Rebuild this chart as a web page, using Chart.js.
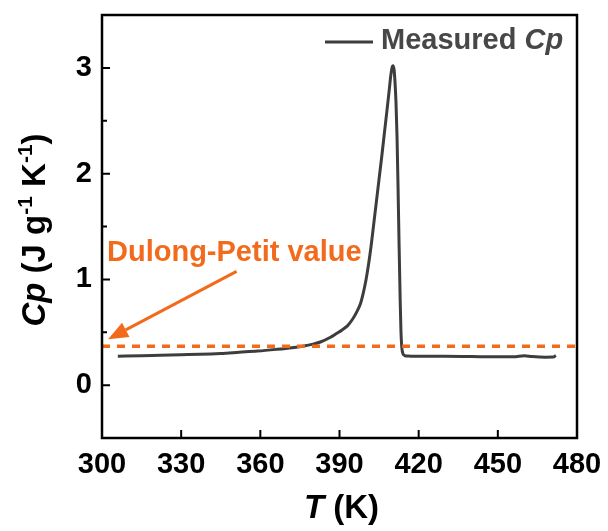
<!DOCTYPE html>
<html>
<head>
<meta charset="utf-8">
<script src="https://cdn.jsdelivr.net/npm/chart.js@4.4.1/dist/chart.umd.min.js"></script>
<style>
body { margin: 0; background: #fff; }
#wrap { width: 608px; height: 531px; }
</style>
</head>
<body>
<div id="wrap"><canvas id="chart" width="608" height="531"></canvas></div>
<script>
// measured Cp curve
let temps = [306, 315, 322, 330, 337, 345, 352, 359, 366, 372, 376, 380, 383, 386.4, 389, 391, 393, 395, 396.5,
    398, 399, 400, 401, 402, 403, 404, 405, 406, 407, 408, 408.8, 409.4, 409.9, 410.3, 410.7, 411.0, 411.4,
    411.8, 412.2, 412.6, 413.0, 413.3, 413.6, 414.0, 414.7, 416, 420, 430, 440, 450, 456, 460, 463, 468, 471, 472]
let cp = [0.274, 0.278, 0.283, 0.288, 0.292, 0.300, 0.311, 0.322, 0.338, 0.354, 0.368, 0.388, 0.41, 0.45, 0.49, 0.522, 0.56, 0.625, 0.69,
    0.775, 0.87, 0.99, 1.14, 1.32, 1.53, 1.74, 1.95, 2.16, 2.38, 2.60, 2.78, 2.92, 3.0, 3.02, 2.98, 2.88, 2.68,
    2.35, 1.85, 1.3, 0.8, 0.5, 0.36, 0.30, 0.28, 0.275, 0.273, 0.272, 0.270, 0.268, 0.268, 0.278, 0.27, 0.264, 0.265, 0.28]

// Dulong-Petit limit
let dpRange = [300, 480]
let dulongPetit = 0.368

let xTicks = [300, 330, 360, 390, 420, 450, 480]
let yTicks = [0, 1, 2, 3]
let yMinor = [0.5, 1.5, 2.5]

// annotation anchor points (data units)
let noteText = 'Dulong-Petit value'
let noteAt = {x: 301.9, y: 1.17}
let arrowFrom = {x: 351, y: 1.075}
let arrowTo = {x: 302.3, y: 0.434}

const orange = '#f26a1b'
const grey = '#3d3d3d'
const FONT = '"Liberation Sans", Arial, sans-serif'

let decor = {
    id: 'decor',
    afterDraw(chart) {
        let ctx = chart.ctx
        let a = chart.chartArea
        let xs = chart.scales.x, ys = chart.scales.y
        ctx.save()

        // frame
        ctx.strokeStyle = '#000'
        ctx.lineWidth = 2.5
        ctx.strokeRect(a.left, a.top, a.right - a.left, a.bottom - a.top)

        // inward ticks
        ctx.lineWidth = 2
        ctx.beginPath()
        xTicks.forEach(v => {
            let px = xs.getPixelForValue(v)
            ctx.moveTo(px, a.bottom)
            ctx.lineTo(px, a.bottom - 8)
        })
        yTicks.forEach(v => {
            let py = ys.getPixelForValue(v)
            ctx.moveTo(a.left, py)
            ctx.lineTo(a.left + 8, py)
        })
        yMinor.forEach(v => {
            let py = ys.getPixelForValue(v)
            ctx.moveTo(a.left, py)
            ctx.lineTo(a.left + 5, py)
        })
        ctx.stroke()

        // annotation text
        ctx.fillStyle = orange
        ctx.font = 'bold 29px ' + FONT
        ctx.textBaseline = 'alphabetic'
        ctx.textAlign = 'left'
        ctx.fillText(noteText, xs.getPixelForValue(noteAt.x), ys.getPixelForValue(noteAt.y))

        // arrow
        let x0 = xs.getPixelForValue(arrowFrom.x), y0 = ys.getPixelForValue(arrowFrom.y)
        let x1 = xs.getPixelForValue(arrowTo.x), y1 = ys.getPixelForValue(arrowTo.y)
        let ang = Math.atan2(y1 - y0, x1 - x0)
        let hl = 20, hw = 8
        let bx = x1 - hl * Math.cos(ang), by = y1 - hl * Math.sin(ang)
        ctx.strokeStyle = orange
        ctx.lineWidth = 3
        ctx.beginPath()
        ctx.moveTo(x0, y0)
        ctx.lineTo(bx, by)
        ctx.stroke()
        ctx.beginPath()
        ctx.moveTo(x1, y1)
        ctx.lineTo(bx + hw * Math.sin(ang), by - hw * Math.cos(ang))
        ctx.lineTo(bx - hw * Math.sin(ang), by + hw * Math.cos(ang))
        ctx.closePath()
        ctx.fillStyle = orange
        ctx.fill()

        // legend
        ctx.strokeStyle = grey
        ctx.lineWidth = 3
        ctx.beginPath()
        ctx.moveTo(325, 42)
        ctx.lineTo(373, 42)
        ctx.stroke()
        ctx.fillStyle = '#474747'
        ctx.font = 'bold 29px ' + FONT
        ctx.fillText('Measured ', 381, 49)
        let w = ctx.measureText('Measured ').width
        ctx.font = 'italic bold 29px ' + FONT
        ctx.fillText('Cp', 381 + w, 49)

        // x title
        ctx.fillStyle = '#000'
        let big = 33
        ctx.font = 'italic bold ' + big + 'px ' + FONT
        let wT = ctx.measureText('T').width
        ctx.font = 'bold ' + big + 'px ' + FONT
        let wK = ctx.measureText(' (K)').width
        let cx = (a.left + a.right) / 2 + 2
        let sx = cx - (wT + wK) / 2
        ctx.font = 'italic bold ' + big + 'px ' + FONT
        ctx.fillText('T', sx, 518)
        ctx.font = 'bold ' + big + 'px ' + FONT
        ctx.fillText(' (K)', sx + wT, 518)

        // y title, rotated
        let parts = [
            {t: 'Cp', f: 'italic bold ' + big + 'px ', dy: 0},
            {t: ' (J g', f: 'bold ' + big + 'px ', dy: 0},
            {t: '-1', f: 'bold 21px ', dy: -13},
            {t: ' K', f: 'bold ' + big + 'px ', dy: 0},
            {t: '-1', f: 'bold 21px ', dy: -13},
            {t: ')', f: 'bold ' + big + 'px ', dy: 0}
        ]
        let total = 0
        parts.forEach(p => { ctx.font = p.f + FONT; p.w = ctx.measureText(p.t).width; total += p.w })
        ctx.translate(45, 230)
        ctx.rotate(-Math.PI / 2)
        let px = -total / 2
        parts.forEach(p => {
            ctx.font = p.f + FONT
            ctx.fillText(p.t, px, p.dy)
            px += p.w
        })
        ctx.restore()
    }
}

new Chart(document.getElementById('chart').getContext('2d'), {
    type: 'scatter',
    data: {
        datasets: [
            {
                label: 'Dulong-Petit',
                data: dpRange.map(t => ({x: t, y: dulongPetit})),
                showLine: true,
                borderColor: orange,
                borderWidth: 3.5,
                borderDash: [8, 7],
                pointRadius: 0
            },
            {
                label: 'Measured Cp',
                data: temps.map((t, i) => ({x: t, y: cp[i]})),
                showLine: true,
                borderColor: grey,
                borderWidth: 3,
                pointRadius: 0,
                cubicInterpolationMode: 'monotone'
            }
        ]
    },
    plugins: [decor],
    options: {
        responsive: false,
        animation: false,
        layout: {padding: {left: 0, top: 15, right: 31, bottom: 0}},
        plugins: {legend: {display: false}, tooltip: {enabled: false}},
        scales: {
            x: {
                type: 'linear',
                min: 300, max: 480,
                afterBuildTicks: s => { s.ticks = xTicks.map(v => ({value: v})) },
                afterFit: s => { s.height = 93; s.paddingLeft = 0; s.paddingRight = 0 },
                grid: {display: false, drawTicks: false},
                border: {display: false},
                ticks: {color: '#000', padding: 10, maxRotation: 0, font: {family: FONT, size: 29, weight: 'bold'}}
            },
            y: {
                min: -0.5, max: 3.5,
                afterBuildTicks: s => { s.ticks = yTicks.map(v => ({value: v})) },
                afterFit: s => { s.width = 102; s.paddingTop = 0; s.paddingBottom = 0 },
                grid: {display: false, drawTicks: false},
                border: {display: false},
                ticks: {color: '#000', padding: 10, font: {family: FONT, size: 29, weight: 'bold'}}
            }
        }
    }
})
</script>
</body>
</html>
